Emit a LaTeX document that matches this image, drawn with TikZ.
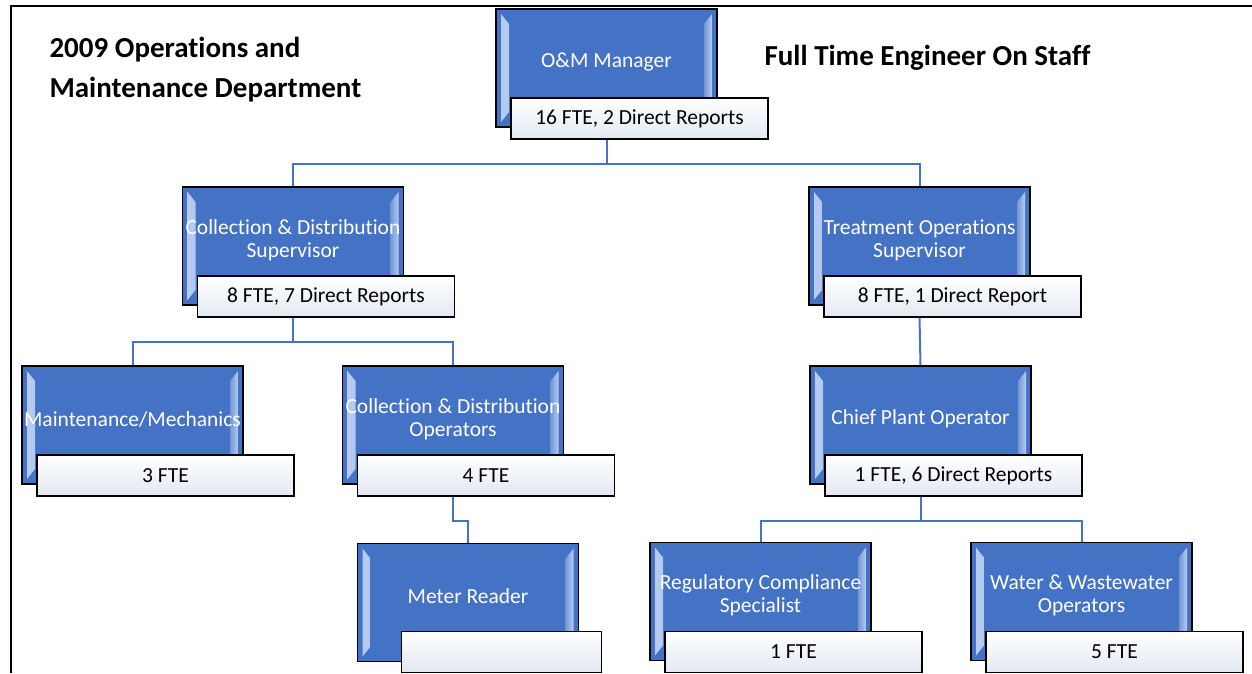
\documentclass[tikz,border=0pt]{standalone}
\usepackage{fontspec}
\setmainfont{Carlito}[Ligatures=NoCommon]
\usetikzlibrary{positioning,calc}
\definecolor{unitblue}{HTML}{4472C4}
\definecolor{unitlight}{HTML}{B7CCF0}
\definecolor{ftegrey}{HTML}{E3E8F1}
\tikzset{
  unit_box/.style={rectangle, draw=black, line width=1.2pt, fill=unitblue,
    minimum width=221pt, minimum height=118pt, inner sep=0pt,
    path picture={
      % bevel strips left and right
      \fill[left color=unitlight, right color=unitblue!60!unitlight]
        ([shift={(5pt,-5pt)}]path picture bounding box.north west) --
        ([shift={(13pt,-15pt)}]path picture bounding box.north west) --
        ([shift={(13pt,15pt)}]path picture bounding box.south west) --
        ([shift={(5pt,5pt)}]path picture bounding box.south west) -- cycle;
      \fill[right color=unitlight, left color=unitblue!60!unitlight]
        ([shift={(-5pt,-5pt)}]path picture bounding box.north east) --
        ([shift={(-13pt,-15pt)}]path picture bounding box.north east) --
        ([shift={(-13pt,15pt)}]path picture bounding box.south east) --
        ([shift={(-5pt,5pt)}]path picture bounding box.south east) -- cycle;
    }},
  fte_box/.style={rectangle, draw=black, line width=1.2pt, top color=white, bottom color=ftegrey,
    minimum width=257pt, minimum height=41pt, inner sep=0pt, anchor=north west,
    font=\fontsize{21.5}{24}\selectfont},
  unit_text/.style={text=white, align=center, font=\fontsize{21.5}{23}\selectfont},
  title_label/.style={font=\fontsize{29}{40}\selectfont\bfseries, align=left},
  link/.style={draw=unitblue, line width=2pt}
}
\begin{document}
\begin{tikzpicture}[x=1pt, y=-1pt]
  \useasboundingbox (0,0) rectangle (1252,673);

  % frame
  \draw[line width=2pt] (1252,6) -- (11,6) -- (11,673);

  % titles
  \node[title_label, anchor=west] (title) at (46,70) {2009 Operations and\\Maintenance Department};
  \node[title_label, anchor=west] (staff) at (761,58) {Full Time Engineer On Staff};

  % level 1
  \node[unit_box] (mgr) at (606.5,68) {};
  \node[unit_text] (mgr_t) at ([yshift=6pt]mgr.center) {O\&M Manager};
  \node[fte_box] (mgr_f) at ([shift={(15pt,-89pt)}]mgr.north west) {16 FTE, 2 Direct Reports};

  % level 2
  \node[unit_box] (cds) at (293,246) {};
  \node[unit_text] (cds_t) at ([yshift=6pt]cds.center) {Collection \& Distribution\\Supervisor};
  \node[fte_box] (cds_f) at ([shift={(15pt,-89pt)}]cds.north west) {8 FTE, 7 Direct Reports};

  \node[unit_box] (tos) at (919.5,246) {};
  \node[unit_text] (tos_t) at ([yshift=6pt]tos.center) {Treatment Operations\\Supervisor};
  \node[fte_box] (tos_f) at ([shift={(15pt,-89pt)}]tos.north west) {8 FTE, 1 Direct Report};

  % level 3
  \node[unit_box] (mm) at (132.5,425) {};
  \node[unit_text] (mm_t) at ([yshift=6pt]mm.center) {Maintenance/Mechanics};
  \node[fte_box] (mm_f) at ([shift={(15pt,-89pt)}]mm.north west) {3 FTE};

  \node[unit_box] (cdo) at (453,425) {};
  \node[unit_text] (cdo_t) at ([yshift=6pt]cdo.center) {Collection \& Distribution\\Operators};
  \node[fte_box] (cdo_f) at ([shift={(15pt,-89pt)}]cdo.north west) {4 FTE};

  \node[unit_box] (cpo) at (920.5,425) {};
  \node[unit_text] (cpo_t) at ([yshift=6pt]cpo.center) {Chief Plant Operator};
  \node[fte_box] (cpo_f) at ([shift={(15pt,-89pt)}]cpo.north west) {1 FTE, 6 Direct Reports};

  % level 4
  \node[unit_box] (mr) at (468,602.5) {};
  \node[unit_text] (mr_t) at ([yshift=6pt]mr.center) {Meter Reader};
  \node[fte_box, minimum width=200pt] (mr_f) at ([shift={(44pt,-88pt)}]mr.north west) {};

  \node[unit_box] (rcs) at (760.5,601.5) {};
  \node[unit_text] (rcs_t) at ([yshift=6pt]rcs.center) {Regulatory Compliance\\Specialist};
  \node[fte_box] (rcs_f) at ([shift={(15pt,-89pt)}]rcs.north west) {1 FTE};

  \node[unit_box] (wwo) at (1081.5,601.5) {};
  \node[unit_text] (wwo_t) at ([yshift=6pt]wwo.center) {Water \& Wastewater\\Operators};
  \node[fte_box] (wwo_f) at ([shift={(15pt,-89pt)}]wwo.north west) {5 FTE};

  % connectors
  \foreach \up/\down in {mgr/cds, mgr/tos, cds/mm, cds/cdo, cpo/rcs, cpo/wwo, cdo/mr} {
    \draw[link] (\up.south |- \up_f.south) -- ++(0,24.5) -| (\down.north);
  }
  \draw[link] (tos.south |- tos_f.south) -- (cpo.north);

\end{tikzpicture}
\end{document}
